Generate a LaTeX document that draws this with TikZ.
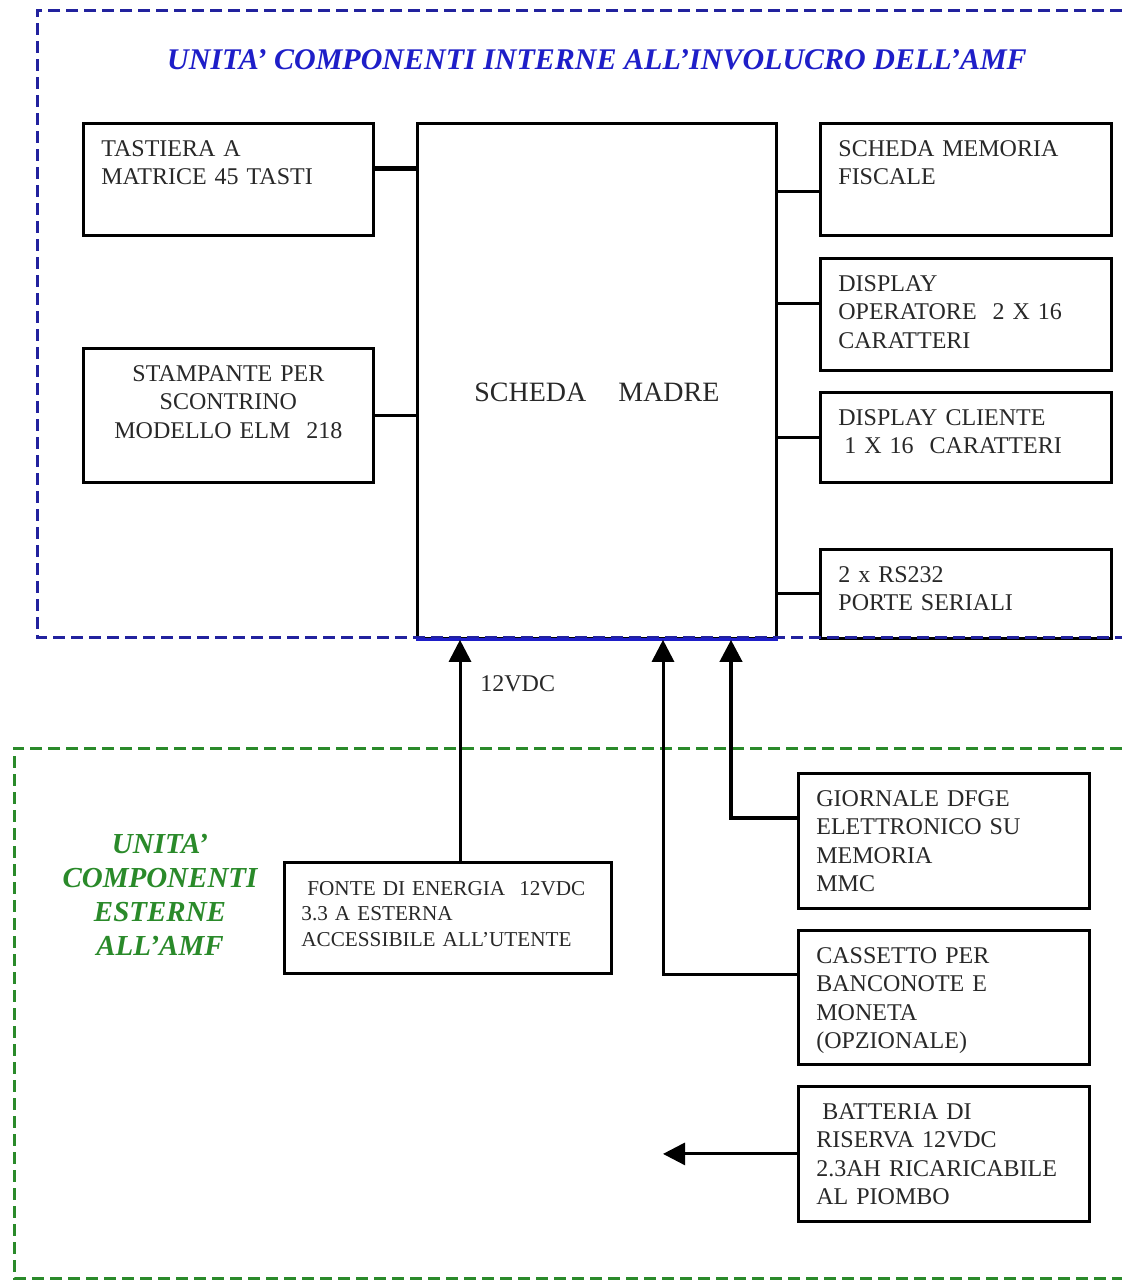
\documentclass[tikz,border=0pt]{standalone}
\usepackage{fontspec}
\setmainfont{Liberation Serif}
\usepackage{tikz}
\usetikzlibrary{arrows.meta,positioning,calc}
\definecolor{AmfBlue}{HTML}{1E1EC8}
\definecolor{AmfNavy}{HTML}{22229E}
\definecolor{AmfGreen}{HTML}{2A8A2A}
\definecolor{AmfInk}{HTML}{282828}

\begin{document}
\begin{tikzpicture}[x=0.5pt, y=-0.5pt,
  box/.style={draw=black, line width=1.4pt, anchor=north west, inner xsep=9pt,
    inner ysep=0pt, text height=16.5pt, align=left, text=AmfInk,
    font=\fontsize{12}{14.2}\selectfont},
  board/.style={draw=black, line width=1.4pt, anchor=north west, inner sep=0pt,
    align=center, text=AmfInk, font=\fontsize{14}{16}\selectfont},
  wire/.style={draw=black, line width=1.5pt},
  feed/.style={wire, -{Triangle[length=11pt, width=11pt]}},
  zone/.style={line width=1.5pt, dash pattern=on 6pt off 3pt},
  title/.style={font=\fontsize{15}{17}\selectfont\bfseries\itshape}]
  \useasboundingbox (0,0) rectangle (1122,1281);

  \node[title, text=AmfBlue] (intTitle) at (597,60)
    {UNITA' COMPONENTI INTERNE ALL'INVOLUCRO DELL'AMF};
  \node[title, text=AmfGreen, align=center, font=\fontsize{14.5}{17}\selectfont\bfseries\itshape]
    (extTitle) at (160,895) {UNITA'\\COMPONENTI\\ESTERNE\\ALL'AMF};

  \node[board, text width=179.5pt, text height=139pt, text depth=118.5pt] (madre) at (416,122)
    {SCHEDA\hspace{16pt}MADRE};
  \node[box, text width=127pt, text depth=39.5pt] (tast) at (82,122)
    {TASTIERA A\\MATRICE 45 TASTI};
  \node[box, text width=127pt, text depth=50.5pt, align=center] (stamp) at (82,347)
    {STAMPANTE PER\\SCONTRINO\\MODELLO ELM\ \ 218};
  \node[box, text width=127.5pt, text depth=39.5pt] (fisc) at (819,122)
    {SCHEDA MEMORIA\\FISCALE};
  \node[box, text width=127.5pt, text depth=39.5pt] (dop) at (819,257)
    {DISPLAY\\OPERATORE\ \ 2 X 16\\CARATTERI};
  \node[box, text width=127.5pt, text depth=28.5pt] (dcli) at (819,391)
    {DISPLAY CLIENTE\\\hspace*{3pt}1 X 16\ \ CARATTERI};
  \node[box, text width=127.5pt, text depth=28pt] (rs) at (819,548)
    {2 x RS232\\PORTE SERIALI};

  \node[box, inner xsep=8.5pt, text width=146.5pt, text depth=39pt, font=\fontsize{10.6}{12.75}\selectfont] (fonte) at (283,861)
    {\mbox{\hspace*{3pt}FONTE DI ENERGIA\ \ 12VDC}\\3.3 A ESTERNA\\\mbox{ACCESSIBILE ALL'UTENTE}};
  \node[box, text width=127.5pt, text depth=51pt] (giorn) at (797,772)
    {GIORNALE DFGE\\ELETTRONICO SU\\MEMORIA\\MMC};
  \node[box, text width=127.5pt, text depth=50.5pt] (cass) at (797,929)
    {CASSETTO PER\\BANCONOTE E\\MONETA\\(OPZIONALE)};
  \node[box, text width=127.5pt, text depth=51pt] (batt) at (797,1085)
    {\hspace*{3pt}BATTERIA DI\\RISERVA 12VDC\\2.3AH RICARICABILE\\AL PIOMBO};

  \draw[wire, line width=2.5pt] ([yshift=5.5pt]tast.east) -- ([yshift=5.5pt]tast.east -| madre.west);
  \draw[wire] (stamp.east) -- (stamp.east -| madre.west);
  \draw[wire] ([yshift=-6pt]fisc.west) -- ([yshift=-6pt]fisc.west -| madre.east);
  \draw[wire] ([yshift=5.5pt]dop.west) -- ([yshift=5.5pt]dop.west -| madre.east);
  \draw[wire] (dcli.west) -- (dcli.west -| madre.east);
  \draw[wire] (rs.west) -- (rs.west -| madre.east);

  \draw[zone, AmfNavy] (1122,10) -- (37,10) -- (37,637) -- (1122,637);
  \draw[AmfBlue, line width=1.5pt] (madre.south west) -- (madre.south east);
  \draw[zone, AmfGreen] (1122,748) -- (14,748) -- (14,1278) -- (1122,1278);

  \path (madre.south west) ++(44,0) coordinate (inF) ++(203,0) coordinate (inC)
    ++(68,0) coordinate (inG);
  \coordinate (battEnd) at (663,1153);
  \node[anchor=west, inner sep=0pt, text=AmfInk, font=\fontsize{12}{14}\selectfont] (vdc) at (480,684) {12VDC};
  \draw[feed] (fonte.north -| inF) -- (inF);
  \draw[feed, line width=2pt] ([yshift=11.25pt]giorn.west) -| (inG);
  \draw[feed] ([yshift=11.5pt]cass.west) -| (inC);
  \draw[feed] (batt.west) -- (batt.west -| battEnd);
\end{tikzpicture}
\end{document}
